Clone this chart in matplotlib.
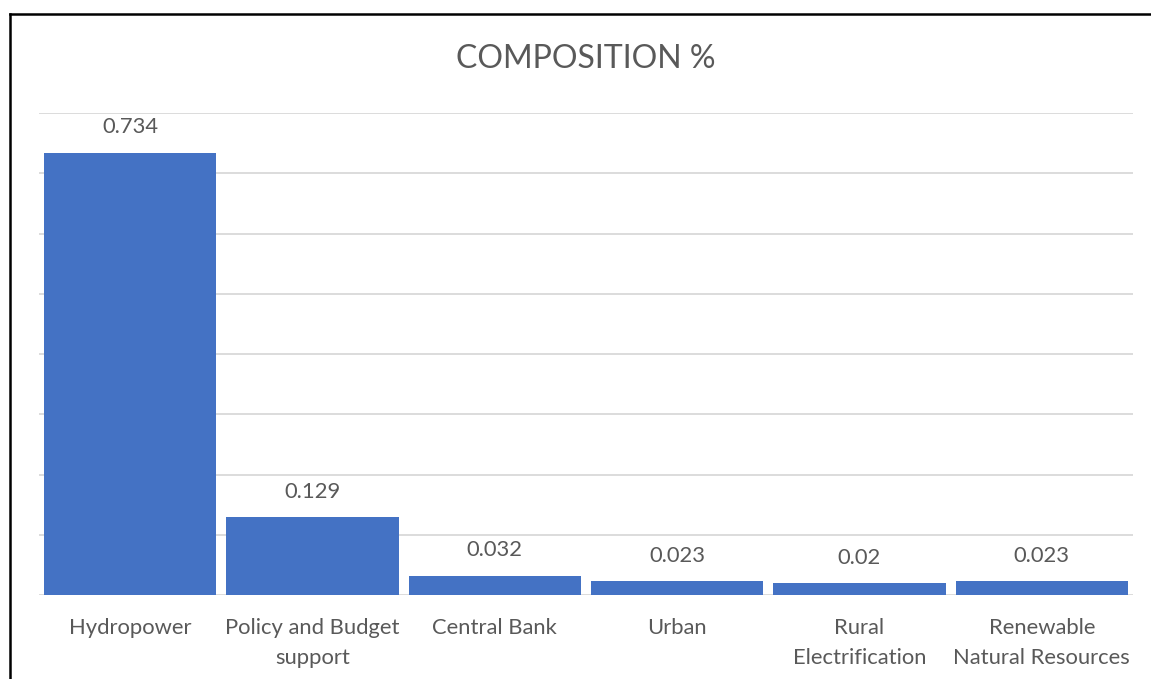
import matplotlib.pyplot as plt
from matplotlib.lines import Line2D

# Shares by sector
categories = ["Hydropower", "Policy and Budget\nsupport", "Central Bank", "Urban",
              "Rural\nElectrification", "Renewable\nNatural Resources"]
shares = [0.734, 0.129, 0.032, 0.023, 0.02, 0.023]
share_labels = ["0.734", "0.129", "0.032", "0.023", "0.02", "0.023"]
grid_ticks = [0.0, 0.1, 0.2, 0.3, 0.4, 0.5, 0.6, 0.7, 0.8]

plt.rcParams['font.family'] = ['Lato', 'DejaVu Sans']
text_color = '#595959'

W, H = 1151, 679
fig = plt.figure(figsize=(W / 100, H / 100), dpi=100)
ax = fig.add_axes([39 / W, (H - 595) / H, (1133 - 39) / W, (595 - 113) / H])

x = range(len(categories))
bars = ax.bar(x, shares, width=0.945, color='#4472C4', zorder=2)

ax.set_xlim(-0.5, len(categories) - 0.5)
ax.set_ylim(0, 0.8)
ax.set_yticks(grid_ticks)
ax.yaxis.grid(True, color='#D9D9D9', linewidth=1.3, zorder=0)
ax.tick_params(axis='y', left=False, labelleft=False)
ax.tick_params(axis='x', bottom=False, pad=13)
ax.set_xticks(list(x))
ax.set_xticklabels(categories, fontsize=15.8, color=text_color, linespacing=1.6, va='top')
for s in ax.spines.values():
    s.set_visible(False)

for bar, lab in zip(bars, share_labels):
    ax.annotate(lab, (bar.get_x() + bar.get_width() / 2, bar.get_height()),
                xytext=(0, 11), textcoords='offset points', ha='center', va='bottom',
                fontsize=15.8, color=text_color)

fig.text(586 / W, 1 - 59 / H, "COMPOSITION %", ha='center', va='center',
         fontsize=23, color=text_color)

# chart border (left and top edges)
fig.add_artist(Line2D([10 / W, 10 / W], [0, 1 - 14 / H], color='black', linewidth=1.8))
fig.add_artist(Line2D([10 / W, 1], [1 - 14 / H, 1 - 14 / H], color='black', linewidth=1.8))

fig.savefig('out.png', dpi=100)
